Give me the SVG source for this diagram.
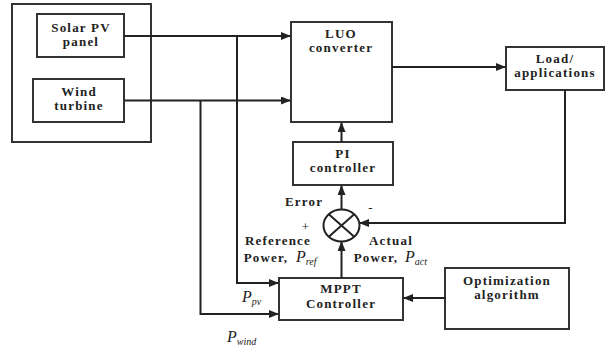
<svg xmlns="http://www.w3.org/2000/svg" width="606" height="349" viewBox="0 0 606 349">
<style>
.box{fill:#fff;stroke:#333;stroke-width:2}
.ln{fill:none;stroke:#222;stroke-width:2}
.t{font-family:"Liberation Serif","Times New Roman",serif;font-weight:bold;font-size:13px;letter-spacing:1.2px;fill:#222;text-anchor:middle}
.it{font-family:"Liberation Serif","Times New Roman",serif;font-style:italic;font-weight:normal;fill:#222}
</style>
<defs>
<marker id="ah" markerWidth="10" markerHeight="8" refX="9" refY="4" orient="auto" markerUnits="userSpaceOnUse">
<path d="M0,0 L10,4 L0,8 Z" fill="#222"/>
</marker>
</defs>
<rect width="606" height="349" fill="#fff"/>
<g id="source-enclosure"><rect class="box" x="12" y="4" width="139" height="138"/></g>
<g id="solar-pv"><rect class="box" x="37" y="14" width="87" height="43"/>
<text class="t" x="81" y="32">Solar PV</text><text class="t" x="81" y="46">panel</text></g>
<g id="wind-turbine"><rect class="box" x="33" y="79" width="91" height="43"/>
<text class="t" x="79" y="96">Wind</text><text class="t" x="79" y="110">turbine</text></g>
<g id="luo-converter"><rect class="box" x="291" y="22" width="101" height="100"/>
<text class="t" x="341" y="38">LUO</text><text class="t" x="341" y="52">converter</text></g>
<g id="load"><rect class="box" x="506" y="47" width="98" height="43"/>
<text class="t" x="555" y="63">Load/</text><text class="t" x="555" y="77">applications</text></g>
<g id="pi-controller"><rect class="box" x="293" y="142" width="100" height="43"/>
<text class="t" x="343" y="158">PI</text><text class="t" x="343" y="172">controller</text></g>
<g id="summer"><ellipse cx="341.5" cy="225.5" rx="18" ry="16" fill="#fff" stroke="#222" stroke-width="2"/>
<path class="ln" d="M328.8,214.2 L354.2,236.8 M354.2,214.2 L328.8,236.8"/></g>
<g id="mppt"><rect class="box" x="279" y="278" width="124" height="42"/>
<text class="t" x="341" y="293">MPPT</text><text class="t" x="341" y="308">Controller</text></g>
<g id="optimization"><rect class="box" x="445" y="268" width="124" height="61"/>
<text class="t" x="507" y="285">Optimization</text><text class="t" x="507" y="299">algorithm</text></g>
<g id="connectors">
<path class="ln" d="M124,36 H290" marker-end="url(#ah)"/>
<path class="ln" d="M124,100.5 H290" marker-end="url(#ah)"/>
<path class="ln" d="M237,36 V283 H278" marker-end="url(#ah)"/>
<path class="ln" d="M200.5,100.5 V314 H278" marker-end="url(#ah)"/>
<path class="ln" d="M392,67 H505" marker-end="url(#ah)"/>
<path class="ln" d="M565,90 V223 H360" marker-end="url(#ah)"/>
<path class="ln" d="M341.5,142 V123" marker-end="url(#ah)"/>
<path class="ln" d="M341.5,209 V186" marker-end="url(#ah)"/>
<path class="ln" d="M341.5,278 V242" marker-end="url(#ah)"/>
<path class="ln" d="M445,298 H404" marker-end="url(#ah)"/>
</g>
<g id="labels">
<text class="t" x="304" y="206">Error</text>
<text class="t" x="306" y="231" style="font-weight:normal">+</text>
<text class="t" x="371" y="212" style="font-weight:normal">-</text>
<text class="t" x="278" y="245">Reference</text>
<text class="t" x="266" y="262">Power,</text>
<text class="it" x="296" y="262" font-size="16">P<tspan font-size="10" dy="3">ref</tspan></text>
<text class="t" x="391" y="245">Actual</text>
<text class="t" x="376" y="262">Power,</text>
<text class="it" x="405" y="262" font-size="16">P<tspan font-size="10" dy="3">act</tspan></text>
<text class="it" x="242" y="302" font-size="16">P<tspan font-size="10" dy="3">pv</tspan></text>
<text class="it" x="227" y="342" font-size="16">P<tspan font-size="10" dy="3">wind</tspan></text>
</g>
</svg>
